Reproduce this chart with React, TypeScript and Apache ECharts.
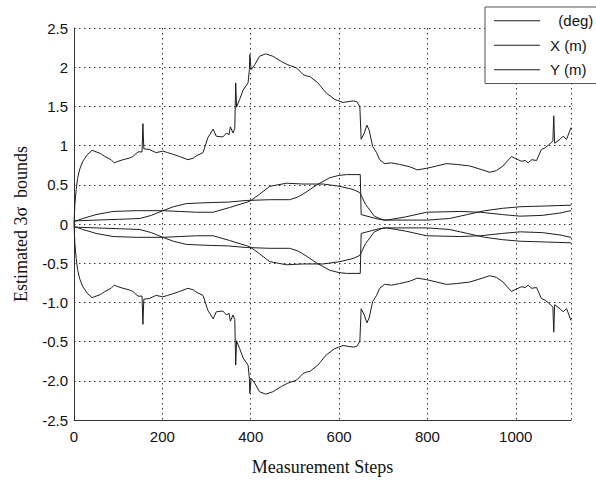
import React, { useEffect, useRef } from "react";
import * as echarts from "echarts";

// Estimated 3-sigma bound of heading (deg)
const thetaSteps = [0, 2, 5, 8, 13, 20, 31, 41, 50, 60, 70, 84, 91, 100, 111, 125, 133, 145, 154, 156, 158, 171, 186, 201, 212, 224, 239, 258, 270, 277, 292, 303, 315, 322, 337, 345, 351, 354, 360, 364, 366, 368, 375, 383, 394, 397, 398, 401, 409, 420, 434, 450, 470, 484, 490, 504, 518, 525, 534, 552, 571, 590, 609, 620, 632, 640, 647, 650, 657, 663, 668, 676, 685, 692, 703, 719, 737, 760, 777, 798, 821, 843, 866, 896, 919, 941, 956, 971, 990, 1005, 1013, 1021, 1028, 1036, 1047, 1058, 1066, 1077, 1084, 1086, 1088, 1100, 1107, 1115, 1125];
const thetaBound = [0.0, 0.25, 0.44, 0.58, 0.7, 0.8, 0.89, 0.94, 0.92, 0.9, 0.86, 0.82, 0.78, 0.8, 0.82, 0.84, 0.86, 0.92, 0.92, 1.28, 0.96, 0.95, 0.91, 0.93, 0.91, 0.89, 0.86, 0.82, 0.84, 0.87, 0.91, 1.1, 1.21, 1.12, 1.11, 1.16, 1.14, 1.24, 1.16, 1.22, 1.8, 1.49, 1.59, 1.71, 1.8, 1.97, 2.16, 1.97, 2.03, 2.14, 2.17, 2.14, 2.07, 2.03, 2.02, 1.99, 1.91, 1.89, 1.88, 1.8, 1.67, 1.59, 1.55, 1.56, 1.57, 1.56, 1.5, 1.08, 1.16, 1.26, 1.2, 0.99, 0.91, 0.82, 0.77, 0.78, 0.76, 0.73, 0.69, 0.71, 0.74, 0.77, 0.76, 0.74, 0.7, 0.66, 0.68, 0.74, 0.86, 0.82, 0.8, 0.81, 0.78, 0.82, 0.81, 0.95, 0.97, 1.02, 1.06, 1.38, 1.03, 1.08, 1.12, 1.08, 1.23];

// Estimated 3-sigma bound of X (m)
const xSteps = [0, 20, 50, 88, 141, 201, 240, 277, 315, 352, 398, 420, 443, 481, 518, 564, 602, 632, 647, 660, 680, 700, 720, 780, 800, 850, 890, 930, 970, 1010, 1070, 1125];
const xBound = [0.03, 0.07, 0.12, 0.16, 0.17, 0.17, 0.16, 0.15, 0.15, 0.21, 0.29, 0.38, 0.48, 0.52, 0.51, 0.51, 0.48, 0.44, 0.4, 0.25, 0.1, 0.05, 0.05, 0.05, 0.05, 0.07, 0.12, 0.17, 0.2, 0.22, 0.23, 0.24];

// Estimated 3-sigma bound of Y (m)
const ySteps = [0, 50, 103, 149, 175, 201, 225, 254, 292, 350, 390, 443, 488, 505, 518, 550, 579, 600, 617, 648, 650, 670, 690, 708, 750, 798, 873, 920, 970, 1010, 1060, 1100, 1125];
const yBound = [0.04, 0.05, 0.06, 0.07, 0.11, 0.17, 0.22, 0.26, 0.27, 0.28, 0.3, 0.31, 0.31, 0.34, 0.38, 0.5, 0.59, 0.62, 0.63, 0.63, 0.12, 0.09, 0.06, 0.05, 0.09, 0.15, 0.16, 0.15, 0.12, 0.1, 0.11, 0.14, 0.17];

const seriesNames = ["\u00a0\u00a0(deg)", "X (m)", "Y (m)"];

const yTickValues = [2.5, 2, 1.5, 1, 0.5, 0, -0.5, -1, -1.5, -2, -2.5];
const yTickLabels = ["2.5", "2", "1.5", "1", "0.5", "0", "-0.5", "-1.0", "-0.5", "-2.0", "-2.5"];
const xTickLabels = ["0", "200", "400", "600", "800", "1000"];

const LINE = "#1e1e1e";
const GRID = "#333";
const SANS = "Liberation Sans, Arial, Helvetica, sans-serif";
const SERIF = "Liberation Serif, Times New Roman, serif";

function pairs(xs: number[], ys: number[], sign: number) {
  return xs.map((x, i) => [x, sign * ys[i]]);
}

export default function App() {
  const ref = useRef<HTMLDivElement>(null);
  useEffect(() => {
    if (!ref.current) return;
    const chart = echarts.init(ref.current, undefined, { renderer: "svg" });
    const mk = (name: string, data: number[][]) => ({
      name,
      type: "line",
      data,
      symbol: "none",
      showSymbol: false,
      lineStyle: { color: LINE, width: 1 },
      itemStyle: { color: LINE },
      silent: true,
    });
    chart.setOption({
      animation: false,
      backgroundColor: "#ffffff",
      grid: { left: 74, right: 25, top: 28, bottom: 60, containLabel: false },
      legend: {
        data: seriesNames.map((n) => ({ name: n, icon: "rect" })),
        orient: "vertical",
        left: 485,
        top: 7,
        padding: [5, 5, 5, 9],
        itemWidth: 46,
        itemHeight: 1,
        itemGap: 7,
        borderColor: "#555",
        borderWidth: 1,
        backgroundColor: "#ffffff",
        itemStyle: { color: LINE, borderWidth: 0 },
        textStyle: { fontFamily: SANS, fontSize: 15, lineHeight: 17.5, color: "#111", padding: [0, 0, 0, 5] },
      },
      xAxis: {
        type: "value",
        min: 0,
        max: 1125,
        interval: 200,
        name: "Measurement Steps",
        nameLocation: "middle",
        nameGap: 38,
        nameTextStyle: { fontFamily: SERIF, fontSize: 18, color: "#111" },
        axisLine: { show: true, onZero: false, lineStyle: { color: "#333", width: 1 } },
        axisTick: { show: false },
        axisLabel: {
          fontFamily: SANS,
          fontSize: 15,
          color: "#111",
          margin: 9,
          showMaxLabel: false,
          formatter: (v: number) => {
            const i = Math.round(v / 200);
            return Math.abs(v - i * 200) < 1e-6 && i < xTickLabels.length ? xTickLabels[i] : "";
          },
        },
        splitLine: { show: true, lineStyle: { color: GRID, width: 1, type: [1.5, 3.5] } },
      },
      yAxis: {
        type: "value",
        min: -2.5,
        max: 2.5,
        interval: 0.5,
        name: "Estimated 3σ\u00a0 bounds",
        nameLocation: "middle",
        nameGap: 44,
        nameTextStyle: { fontFamily: SERIF, fontSize: 18, color: "#111" },
        axisLine: { show: true, onZero: false, lineStyle: { color: "#333", width: 1 } },
        axisTick: { show: false },
        axisLabel: {
          fontFamily: SANS,
          fontSize: 15,
          color: "#111",
          margin: 6,
          formatter: (v: number) => {
            const i = yTickValues.findIndex((t) => Math.abs(t - v) < 1e-6);
            return i >= 0 ? yTickLabels[i] : "";
          },
        },
        splitLine: { show: true, lineStyle: { color: GRID, width: 1, type: [1.5, 3.5] } },
      },
      series: [
        mk(seriesNames[0], pairs(thetaSteps, thetaBound, 1)),
        mk(seriesNames[0], pairs(thetaSteps, thetaBound, -1)),
        mk(seriesNames[1], pairs(xSteps, xBound, 1)),
        mk(seriesNames[1], pairs(xSteps, xBound, -1)),
        mk(seriesNames[2], pairs(ySteps, yBound, 1)),
        mk(seriesNames[2], pairs(ySteps, yBound, -1)),
      ],
    });
    return () => chart.dispose();
  }, []);
  return (
    <div
      ref={ref}
      style={{ width: 596, height: 481, position: "absolute", left: 0, top: 0, background: "#fff" }}
    />
  );
}
